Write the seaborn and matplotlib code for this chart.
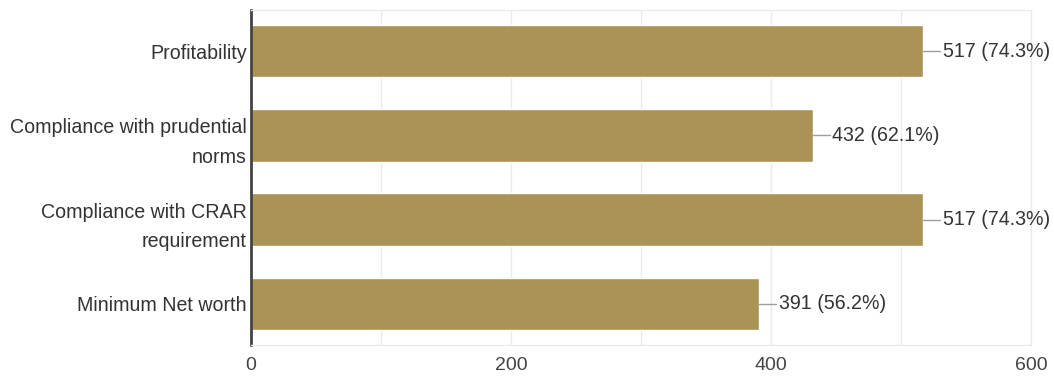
import matplotlib
matplotlib.use("Agg")
import matplotlib.pyplot as plt
import seaborn as sns
import pandas as pd

categories = ["Profitability", "Compliance with prudential\nnorms",
              "Compliance with CRAR\nrequirement", "Minimum Net worth"]
counts = [517, 432, 517, 391]
percents = [74.3, 62.1, 74.3, 56.2]
xticks = [0, 200, 400, 600]

df = pd.DataFrame({"category": categories, "count": counts})

sns.set_style("white")
plt.rcParams["font.family"] = ["Liberation Sans", "DejaVu Sans"]

fig = plt.figure(figsize=(10.54, 3.76), dpi=100)
ax = fig.add_axes([251 / 1054, 1 - 345 / 376, 780 / 1054, 335 / 376])

sns.barplot(data=df, x="count", y="category", color="#ab9356", saturation=1,
            width=0.62, ax=ax)

ax.set_xlim(0, 600)
ax.set_xticks(xticks)
ax.set_xticks(range(0, 601, 100), minor=True)
ax.grid(axis="x", which="both", color="#ebebeb", lw=1)
ax.set_axisbelow(True)
ax.set_xlabel("")
ax.set_ylabel("")
ax.tick_params(axis="both", length=0, labelsize=14.1, colors="#333333")
ax.tick_params(axis="x", pad=9, labelcolor="#444444", labelsize=14)
ax.tick_params(axis="y", pad=3)
for lab in ax.get_yticklabels():
    lab.set_linespacing(1.7)

for s in ["top", "right", "bottom"]:
    ax.spines[s].set_color("#ebebeb")
    ax.spines[s].set_linewidth(1)
ax.spines["left"].set_color("#444444")
ax.spines["left"].set_linewidth(2)

# leader line + value label for each bar
for i, (c, p) in enumerate(zip(counts, percents)):
    ax.plot([c, c + 13], [i, i], color="#9e9e9e", lw=1, clip_on=False)
    ax.text(c + 15, i, f"{c} ({p}%)", va="center", ha="left",
            fontsize=14.1, color="#333333")

fig.savefig("out.png", dpi=100)
